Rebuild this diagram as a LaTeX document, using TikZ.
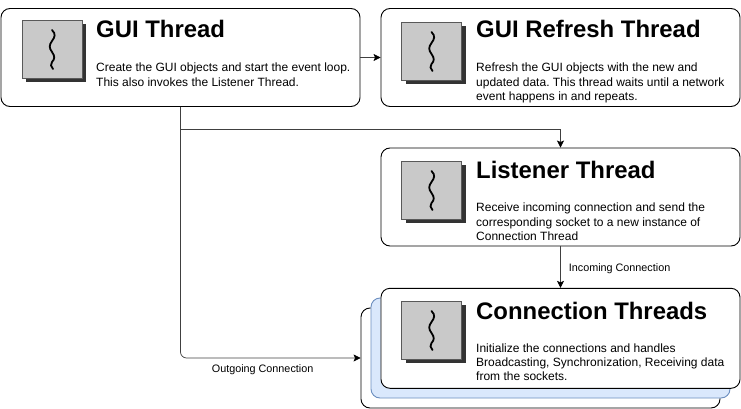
\documentclass[tikz,border=0pt]{standalone}
\usepackage{fontspec}
\usetikzlibrary{arrows.meta}
\setmainfont{Liberation Sans}
\definecolor{blueback}{HTML}{DAE8FC}
\definecolor{blueline}{HTML}{6C8EBF}
\tikzset{
	threadbox/.style={draw=black, fill=white, rounded corners=9pt, minimum width=359pt, minimum height=98pt, line width=0.9pt, inner sep=0pt},
	threadtitle/.style={anchor=base west, font=\bfseries\fontsize{23.9}{27}\selectfont, inner sep=0pt},
	threadtext/.style={anchor=north west, align=left, font=\fontsize{12}{14.3}\selectfont\frenchspacing, inner sep=0pt},
	linklabel/.style={font=\fontsize{10.8}{12}\selectfont, inner sep=0pt},
	link/.style={line width=0.7pt, draw=black!75, -{Stealth[length=7pt, width=7pt, inset=1.5pt, black]}},
	threadicon/.pic={
		\fill[black!80] (-26,-25) rectangle (34,33);
		\draw[draw=black!65, fill=black!21, line width=0.7pt] (-30,-29) rectangle (30,29);
		\draw[line width=1.8pt, line cap=round] (0,-19) .. controls (4,-15) and (3,-12) .. (0,-8) .. controls (-3,-4) and (-3,-1) .. (0,3) .. controls (3,7) and (3,10) .. (0,13) .. controls (-2,15) and (-1,18) .. (1,20);
	}
}
\begin{document}
\begin{tikzpicture}[x=1pt, y=-1pt]
	\useasboundingbox (0,0) rectangle (741,409);
	% boxes
	\node (guibox) [threadbox] at (180.5,57.5) {};
	\node (refreshbox) [threadbox] at (560.5,57.5) {};
	\node (listenerbox) [threadbox] at (560.5,197) {};
	\node (connback) [threadbox, minimum height=100pt] at (540.5,358) {};
	\node (connmiddle) [threadbox, minimum height=100pt, fill=blueback, draw=blueline] at (550.5,348) {};
	\node (connbox) [threadbox, minimum height=100pt] at (560.5,338.3) {};
	% icons
	\path (52,49) pic {threadicon};
	\path (431.5,51) pic {threadicon};
	\path (431.5,190) pic {threadicon};
	\path (431.5,330) pic {threadicon};
	% titles
	\node (guititle) [threadtitle] at (96,38) {GUI Thread};
	\node (refreshtitle) [threadtitle] at (476,38) {GUI Refresh Thread};
	\node (listenertitle) [threadtitle] at (476,178) {Listener Thread};
	\node (conntitle) [threadtitle] at (476,319) {Connection Threads};
	% descriptions
	\node (guitext) [threadtext, font=\fontsize{12}{15}\selectfont] at (96,62.5) {Create the GUI objects and start the event loop.\\This also invokes the Listener Thread.};
	\node (refreshtext) [threadtext] at (476,63) {Refresh the GUI objects with the new and\\updated data. This thread waits until a network\\event happens in and repeats.};
	\node (listenertext) [threadtext] at (476,203) {Receive incoming connection and send the\\corresponding socket to a new instance of\\Connection Thread};
	\node (conntext) [threadtext] at (476,343.5) {Initialize the connections and handles\\Broadcasting, Synchronization, Receiving data\\from the sockets.};
	% connectors
	\draw[link] (guibox.east) -- (refreshbox.west);
	\draw[link] (guibox.south) -- ++(0,22) -| (listenerbox.north);
	\draw[link] (listenerbox.south) -- (connbox.north) node [linklabel, midway, right=8pt, yshift=-2pt] {Incoming Connection};
	\draw[link, rounded corners=6pt] (guibox.south) |- (connback.west) node [linklabel, pos=0.728, below=6pt] {Outgoing Connection};
\end{tikzpicture}
\end{document}
